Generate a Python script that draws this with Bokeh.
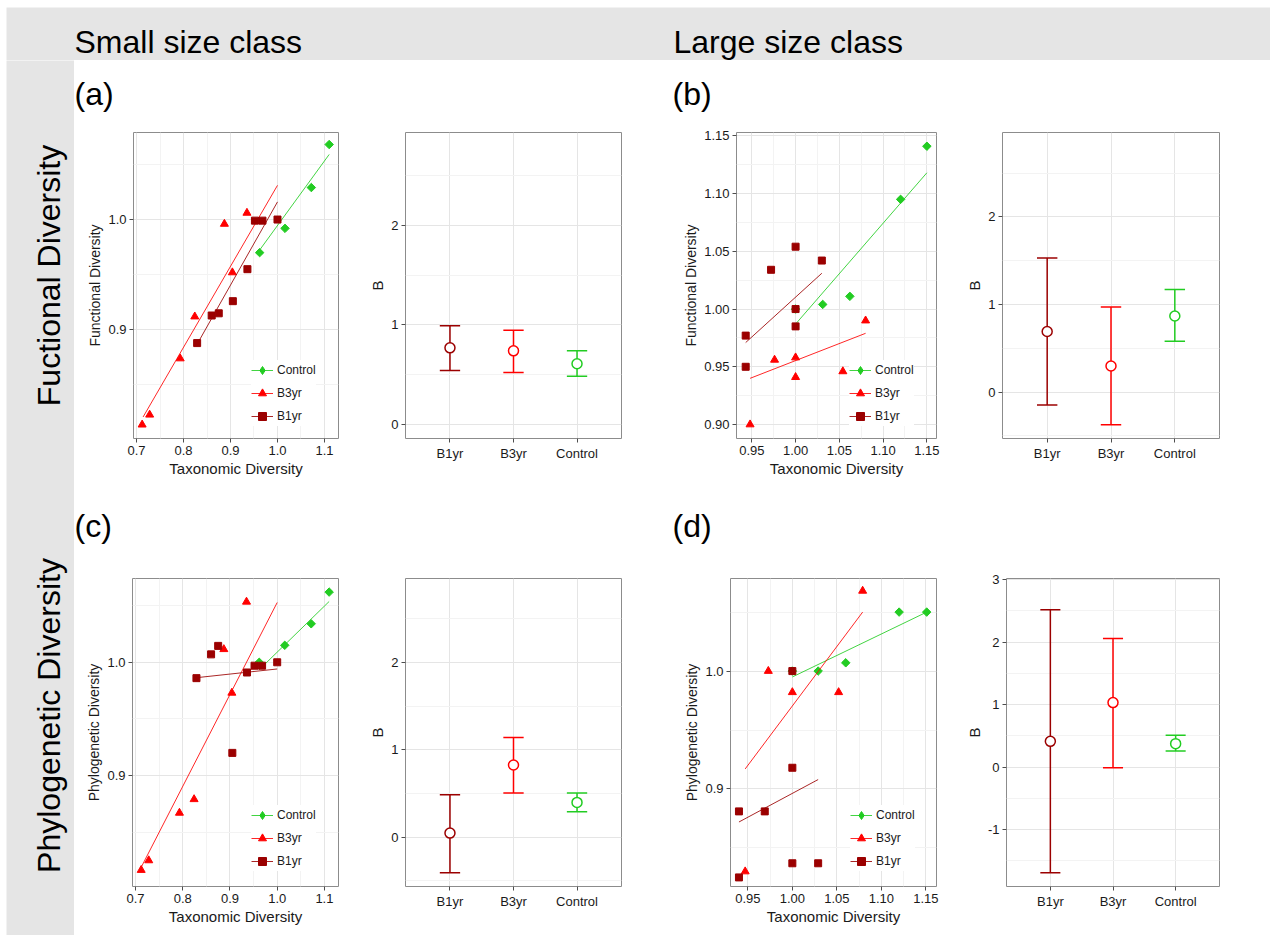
import math
from bokeh.plotting import figure
from bokeh.models import (Range1d, FactorRange, FixedTicker, PrintfTickFormatter,
                          Legend, LegendItem, ColumnDataSource, Label)
from bokeh.layouts import row, column, Spacer
from bokeh.transform import dodge
from bokeh.embed import file_html
from bokeh.resources import INLINE

# ---------------- data ----------------
groups = ["B1yr", "B3yr", "Control"]
series_names = ["Control", "B3yr", "B1yr"]

# (a) small size class, functional diversity
a_ctrl_x = [0.962, 1.016, 1.072, 1.110]
a_ctrl_y = [0.970, 0.992, 1.029, 1.068]
a_ctrl_fit_x = [0.958, 1.110]
a_ctrl_fit_y = [0.970, 1.059]
a_b3_x = [0.712, 0.728, 0.793, 0.824, 0.887, 0.904, 0.935]
a_b3_y = [0.814, 0.823, 0.874, 0.912, 0.996, 0.952, 1.006]
a_b3_fit_x = [0.714, 1.000]
a_b3_fit_y = [0.821, 1.031]
a_b1_x = [0.829, 0.860, 0.875, 0.905, 0.936, 0.952, 0.968, 1.000]
a_b1_y = [0.888, 0.913, 0.915, 0.926, 0.955, 0.999, 0.999, 1.000]
a_b1_fit_x = [0.829, 1.000]
a_b1_fit_y = [0.887, 1.016]
a_mean = [0.769, 0.739, 0.609]
a_low = [0.542, 0.522, 0.483]
a_high = [0.992, 0.945, 0.739]

# (b) large size class, functional diversity
b_ctrl_x = [1.000, 1.031, 1.062, 1.120, 1.150]
b_ctrl_y = [1.000, 1.004, 1.011, 1.095, 1.141]
b_ctrl_fit_x = [1.000, 1.150]
b_ctrl_fit_y = [0.987, 1.118]
b_b3_x = [0.948, 0.976, 1.000, 1.000, 1.054, 1.080]
b_b3_y = [0.900, 0.956, 0.958, 0.941, 0.946, 0.990]
b_b3_fit_x = [0.948, 1.080]
b_b3_fit_y = [0.940, 0.979]
b_b1_x = [0.943, 0.943, 0.972, 1.000, 1.000, 1.000, 1.030]
b_b1_y = [0.977, 0.950, 1.034, 1.054, 1.000, 0.985, 1.042]
b_b1_fit_x = [0.943, 1.030]
b_b1_fit_y = [0.971, 1.031]
b_mean = [0.692, 0.299, 0.870]
b_low = [-0.147, -0.371, 0.582]
b_high = [1.531, 0.972, 1.172]

# (c) small size class, phylogenetic diversity
c_ctrl_x = [0.962, 1.016, 1.072, 1.110]
c_ctrl_y = [1.000, 1.015, 1.034, 1.062]
c_ctrl_fit_x = [0.962, 1.110]
c_ctrl_fit_y = [0.9935, 1.0537]
c_b3_x = [0.712, 0.728, 0.793, 0.824, 0.887, 0.904, 0.935]
c_b3_y = [0.8165, 0.825, 0.867, 0.879, 1.0115, 0.973, 1.0534]
c_b3_fit_x = [0.712, 1.000]
c_b3_fit_y = [0.819, 1.0528]
c_b1_x = [0.829, 0.860, 0.875, 0.905, 0.936, 0.952, 0.968, 1.000]
c_b1_y = [0.986, 1.007, 1.0145, 0.920, 0.991, 0.997, 0.997, 1.000]
c_b1_fit_x = [0.829, 1.000]
c_b1_fit_y = [0.9864, 0.9941]
c_mean = [0.046, 0.826, 0.398]
c_low = [-0.409, 0.505, 0.291]
c_high = [0.486, 1.143, 0.505]

# (d) large size class, phylogenetic diversity
d_ctrl_x = [1.000, 1.029, 1.060, 1.120, 1.151]
d_ctrl_y = [1.000, 1.000, 1.007, 1.050, 1.050]
d_ctrl_fit_x = [1.000, 1.151]
d_ctrl_fit_y = [0.995, 1.050]
d_b3_x = [0.947, 0.973, 1.000, 1.052, 1.079]
d_b3_y = [0.830, 1.000, 0.982, 0.982, 1.068]
d_b3_fit_x = [0.947, 1.079]
d_b3_fit_y = [0.917, 1.050]
d_b1_x = [0.940, 0.940, 0.969, 1.000, 1.000, 1.000, 1.029]
d_b1_y = [0.825, 0.881, 0.881, 1.000, 0.918, 0.837, 0.837]
d_b1_fit_x = [0.940, 1.029]
d_b1_fit_y = [0.872, 0.908]
d_mean = [0.411, 1.031, 0.374]
d_low = [-1.693, -0.011, 0.256]
d_high = [2.515, 2.056, 0.507]

# tick values
small_x_ticks = [0.7, 0.8, 0.9, 1.0, 1.1]
small_x_minor = [0.75, 0.85, 0.95, 1.05]
large_x_ticks = [0.95, 1.00, 1.05, 1.10, 1.15]
large_x_minor = [0.975, 1.025, 1.075, 1.125]
y_ticks_1 = [0.9, 1.0]
y_minor_1 = [0.85, 0.95, 1.05]
b_fd_y_ticks = [0.90, 0.95, 1.00, 1.05, 1.10, 1.15]
b_fd_y_minor = [0.925, 0.975, 1.025, 1.075, 1.125]
B_ticks_a = [0, 1, 2]
B_minor_a = [0.5, 1.5, 2.5]
B_ticks_bc = [0, 1, 2]
B_minor_bc = [-0.5, 0.5, 1.5, 2.5]
B_ticks_d = [-1, 0, 1, 2, 3]
B_minor_d = [-1.5, -0.5, 0.5, 1.5, 2.5]

# ---------------- style ----------------
FONT = "Liberation Sans"
C_CTRL = "#22cc22"
C_B3 = "#ff0000"
C_B1 = "#9b0000"
GROUP_COLORS = [C_B1, C_B3, C_CTRL]
BG_GRAY = "#e5e5e5"
TXT = "#1a1a1a"


def base_style(p):
    p.background_fill_color = "white"
    p.border_fill_color = "white"
    p.outline_line_color = "#8c8c8c"
    p.outline_line_width = 1
    for ax in p.axis:
        ax.axis_line_color = None
        ax.major_tick_line_color = "#4d4d4d"
        ax.major_tick_in = 0
        ax.major_tick_out = 4
        ax.minor_tick_line_color = None
        ax.major_label_text_font = FONT
        ax.major_label_text_font_size = "13px"
        ax.major_label_text_color = TXT
        ax.major_label_standoff = 3
        ax.axis_label_text_font = FONT
        ax.axis_label_text_font_style = "normal"
        ax.axis_label_text_color = TXT
        ax.axis_label_standoff = 2
    p.grid.grid_line_color = "#e5e5e5"
    p.grid.grid_line_width = 1
    p.grid.minor_grid_line_color = "#f3f3f3"


def scatter_panel(width, height, borders, xr, yr, xt, xm, yt, ym, xfmt, yfmt,
                  ylabel, data, leg_xy):
    l, r, t, b = borders
    p = figure(width=width, height=height, x_range=Range1d(*xr), y_range=Range1d(*yr),
               min_border_left=l, min_border_right=r, min_border_top=t,
               min_border_bottom=b, toolbar_location=None, output_backend="svg")
    base_style(p)
    p.xaxis.ticker = FixedTicker(ticks=xt, minor_ticks=xm)
    p.yaxis.ticker = FixedTicker(ticks=yt, minor_ticks=ym)
    p.xaxis.formatter = PrintfTickFormatter(format=xfmt)
    p.yaxis.formatter = PrintfTickFormatter(format=yfmt)
    p.xaxis.axis_label = "Taxonomic Diversity"
    p.xaxis.axis_label_text_font_size = "15px"
    p.yaxis.axis_label = ylabel
    p.yaxis.axis_label_text_font_size = "14px"
    items = []
    for name, color, marker, size, ang, leg_marker, leg_size, xs, ys, fx, fy in data:
        lr = p.line(fx, fy, line_color=color, line_width=1, line_alpha=0.85)
        sr = p.scatter(xs, ys, marker=marker, size=size, angle=ang,
                       fill_color=color, line_color=color)
        if leg_marker != marker:
            # same points, hidden; only its key glyph is shown in the legend
            sr = p.scatter(xs, ys, marker=leg_marker, size=leg_size,
                           fill_color=color, line_color=color, visible=False)
        items.append(LegendItem(label=name, renderers=[lr, sr]))
    leg = Legend(items=items, location=leg_xy, click_policy="none")
    leg.background_fill_color = "white"
    leg.background_fill_alpha = 1
    leg.border_line_color = None
    leg.padding = 2
    leg.spacing = 3
    leg.margin = 0
    leg.glyph_width = 22
    leg.glyph_height = 20
    leg.label_height = 20
    leg.label_standoff = 4
    leg.label_text_font = FONT
    leg.label_text_font_size = "12px"
    leg.label_text_color = TXT
    p.add_layout(leg)
    return p


def b_panel(width, height, borders, yr, yt, ym, means, lows, highs):
    l, r, t, b = borders
    p = figure(width=width, height=height,
               x_range=FactorRange(factors=groups, range_padding=0.2,
                                   range_padding_units="absolute"),
               y_range=Range1d(*yr),
               min_border_left=l, min_border_right=r, min_border_top=t,
               min_border_bottom=b, toolbar_location=None, output_backend="svg")
    base_style(p)
    p.xgrid.minor_grid_line_color = None
    p.yaxis.ticker = FixedTicker(ticks=yt, minor_ticks=ym)
    p.yaxis.formatter = PrintfTickFormatter(format="%d")
    p.yaxis.axis_label = "B"
    p.yaxis.axis_label_text_font_size = "15px"
    src = ColumnDataSource(dict(g=groups, m=means, lo=lows, hi=highs, c=GROUP_COLORS))
    p.segment(x0="g", y0="lo", x1="g", y1="hi", line_color="c", line_width=1.5, source=src)
    for key in ("lo", "hi"):
        p.segment(x0=dodge("g", -0.16, range=p.x_range), y0=key,
                  x1=dodge("g", 0.16, range=p.x_range), y1=key,
                  line_color="c", line_width=1.5, source=src)
    p.scatter(x="g", y="m", marker="circle", size=10, fill_color="white",
              line_color="c", line_width=1.5, source=src)
    return p


def text_strip(width, height, bg, labels):
    p = figure(width=width, height=height, x_range=Range1d(0, width),
               y_range=Range1d(0, height), x_axis_type=None, y_axis_type=None,
               min_border=0, toolbar_location=None, output_backend="svg")
    p.background_fill_color = bg
    p.border_fill_color = bg
    p.outline_line_color = None
    p.grid.visible = False
    for (x, y, txt, ang, align) in labels:
        p.add_layout(Label(x=x, y=y, text=txt, angle=ang, text_align=align,
                           text_baseline="middle", text_font=FONT,
                           text_font_size="32px", text_color="black"))
    return p


def series(cx, cy, cfx, cfy, b3x, b3y, b3fx, b3fy, b1x, b1y, b1fx, b1fy):
    return [
        ("Control", C_CTRL, "square", 6, math.pi / 4, "diamond", 10, cx, cy, cfx, cfy),
        ("B3yr", C_B3, "triangle", 8, 0, "triangle", 8, b3x, b3y, b3fx, b3fy),
        ("B1yr", C_B1, "square", 7, 0, "square", 7, b1x, b1y, b1fx, b1fy),
    ]


# ---------------- panels ----------------
H1, H2 = 375, 370
pa = scatter_panel(271, H1, (59, 7, 12, 57), (0.6936, 1.1298), (0.8015, 1.0789),
                   small_x_ticks, small_x_minor, y_ticks_1, y_minor_1, "%.1f", "%.1f",
                   "Functional Diversity",
                   series(a_ctrl_x, a_ctrl_y, a_ctrl_fit_x, a_ctrl_fit_y,
                          a_b3_x, a_b3_y, a_b3_fit_x, a_b3_fit_y,
                          a_b1_x, a_b1_y, a_b1_fit_x, a_b1_fit_y), (118, 12))
pab = b_panel(305, H1, (60, 29, 12, 57), (-0.143, 2.935), B_ticks_a, B_minor_a,
              a_mean, a_low, a_high)
pb = scatter_panel(295, H1, (86, 9, 12, 57), (0.9325, 1.161), (0.8879, 1.1529),
                   large_x_ticks, large_x_minor, b_fd_y_ticks, b_fd_y_minor, "%.2f", "%.2f",
                   "Functional Diversity",
                   series(b_ctrl_x, b_ctrl_y, b_ctrl_fit_x, b_ctrl_fit_y,
                          b_b3_x, b_b3_y, b_b3_fit_x, b_b3_fit_y,
                          b_b1_x, b_b1_y, b_b1_fit_x, b_b1_fit_y), (113, 12))
pbb = b_panel(325, H1, (57, 51, 12, 57), (-0.529, 2.964), B_ticks_bc, B_minor_bc,
              b_mean, b_low, b_high)

pc = scatter_panel(271, H2, (58, 7, 13, 49), (0.6936, 1.1298), (0.802, 1.074),
                   small_x_ticks, small_x_minor, y_ticks_1, y_minor_1, "%.1f", "%.1f",
                   "Phylogenetic Diversity",
                   series(c_ctrl_x, c_ctrl_y, c_ctrl_fit_x, c_ctrl_fit_y,
                          c_b3_x, c_b3_y, c_b3_fit_x, c_b3_fit_y,
                          c_b1_x, c_b1_y, c_b1_fit_x, c_b1_fit_y), (119, 15))
pcb = b_panel(305, H2, (60, 29, 13, 49), (-0.566, 2.964), B_ticks_bc, B_minor_bc,
              c_mean, c_low, c_high)
pd = scatter_panel(295, H2, (80, 9, 13, 49), (0.9305, 1.162), (0.8173, 1.0785),
                   large_x_ticks, large_x_minor, y_ticks_1, y_minor_1, "%.2f", "%.1f",
                   "Phylogenetic Diversity",
                   series(d_ctrl_x, d_ctrl_y, d_ctrl_fit_x, d_ctrl_fit_y,
                          d_b3_x, d_b3_y, d_b3_fit_x, d_b3_fit_y,
                          d_b1_x, d_b1_y, d_b1_fit_x, d_b1_fit_y), (120, 15))
pdb = b_panel(325, H2, (61, 51, 13, 49), (-1.912, 3.016), B_ticks_d, B_minor_d,
              d_mean, d_low, d_high)

# ---------------- text strips ----------------
header = text_strip(1264, 53, BG_GRAY, [
    (68, 19, "Small size class", 0, "left"),
    (667, 19, "Large size class", 0, "left"),
])
left = text_strip(68, 875, BG_GRAY, [
    (42, 660, "Fuctional Diversity", math.pi / 2, "center"),
    (42, 220, "Phylogenetic Diversity", math.pi / 2, "center"),
])
lab1 = text_strip(1196, 60, "white", [
    (0, 27, "(a)", 0, "left"),
    (598, 27, "(b)", 0, "left"),
])
lab2 = text_strip(1196, 70, "white", [
    (0, 40, "(c)", 0, "left"),
    (598, 40, "(d)", 0, "left"),
])

inner = column(lab1, row(pa, pab, pb, pbb, spacing=0), lab2,
               row(pc, pcb, pd, pdb, spacing=0), spacing=0)
body = column(header, row(left, inner, spacing=0), spacing=0)
layout = column(Spacer(width=1270, height=7),
                row(Spacer(width=6, height=928), body, spacing=0), spacing=0)

open("out.html", "w").write(file_html(layout, INLINE))
